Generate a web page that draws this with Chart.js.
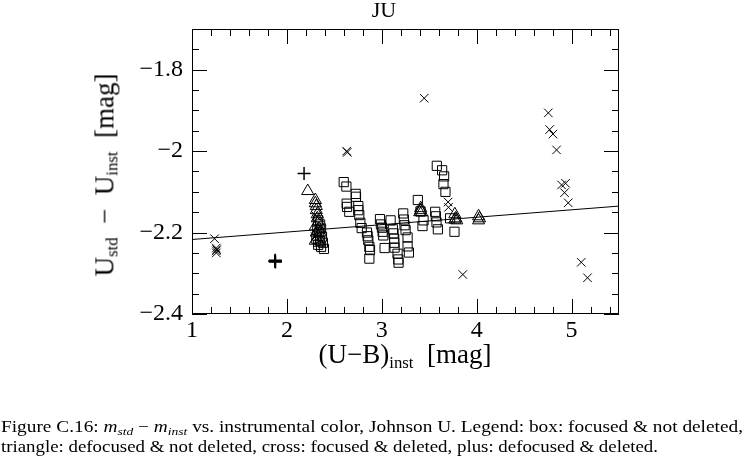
<!DOCTYPE html>
<html>
<head>
<meta charset="utf-8">
<script src="https://cdn.jsdelivr.net/npm/chart.js@4"></script>
<style>
  html, body { margin: 0; padding: 0; background: #fff; }
  #wrap { position: relative; width: 744px; height: 459px; overflow: hidden; font-family: "Liberation Serif", "DejaVu Serif", serif; color: #000; }
  #wrap canvas { position: absolute; left: 0; top: 0; }
  .lbl { position: absolute; white-space: nowrap; }
  .lbl sub { font-size: 0.62em; vertical-align: -0.25em; }
  #title { left: 384px; top: -3px; font-size: 22px; transform: translateX(-50%); }
  #ytitle { left: 106px; top: 175px; font-size: 27px; transform: translate(-50%, -50%) rotate(-90deg); }
  #xtitle { left: 405px; top: 356px; font-size: 27px; transform: translate(-50%, -50%); }
  .cap { left: 1px; font-size: 16px; line-height: 18px; transform-origin: 0 50%; }
  #cap1 { top: 418px; }
  #cap2 { top: 438px; }
  .cap i sub { font-size: 0.7em; line-height: 0; }
</style>
</head>
<body>
<div id="wrap">
  <canvas id="grafico" width="744" height="459"></canvas>
  <div class="lbl" id="title">JU</div>
  <div class="lbl" id="ytitle">U<sub>std</sub> &nbsp;&minus;&nbsp; U<sub>inst</sub> &nbsp;[mag]</div>
  <div class="lbl" id="xtitle">(U&minus;B)<sub>inst</sub> &nbsp;[mag]</div>
  <div class="lbl cap" id="cap1">Figure C.16: <i>m<sub>std</sub></i> &minus; <i>m<sub>inst</sub></i> vs. instrumental color, Johnson U. Legend: box: focused &amp; not deleted,</div>
  <div class="lbl cap" id="cap2">triangle: defocused &amp; not deleted, cross: focused &amp; deleted, plus: defocused &amp; deleted.</div>
</div>
<script>
// box: focused & not deleted
const boxX = [2.599, 2.627, 2.725, 2.728, 2.630, 2.634, 2.658, 2.753, 2.753, 2.763, 2.774, 2.788, 2.844, 2.851, 2.858, 2.869, 2.876, 2.869,
  2.981, 2.991, 3.002, 3.009, 3.016, 3.030, 3.093, 3.117, 3.124, 3.131, 3.131, 3.135, 3.166, 3.174, 3.177,
  3.226, 3.233, 3.240, 3.251, 3.272, 3.272, 3.286,
  3.380, 3.408, 3.440, 3.429,
  3.563, 3.570, 3.577, 3.591, 3.580, 3.636, 3.657, 3.650, 3.671, 3.720, 3.766,
  2.33, 2.35, 2.36, 2.34, 2.37, 2.35, 2.38, 2.33, 2.36, 2.39, 2.31, 2.32];
const boxY = [-2.076, -2.087, -2.105, -2.112, -2.129, -2.137, -2.149, -2.135, -2.145, -2.157, -2.176, -2.189, -2.200, -2.209, -2.219, -2.235, -2.243, -2.264,
  -2.167, -2.180, -2.188, -2.198, -2.207, -2.238, -2.170, -2.192, -2.202, -2.215, -2.225, -2.237, -2.252, -2.266, -2.274,
  -2.153, -2.168, -2.182, -2.194, -2.212, -2.234, -2.249,
  -2.120, -2.148, -2.170, -2.184,
  -2.149, -2.160, -2.175, -2.192, -2.036, -2.047, -2.062, -2.081, -2.100, -2.165, -2.198,
  -2.17, -2.18, -2.19, -2.20, -2.21, -2.22, -2.225, -2.23, -2.235, -2.24, -2.215, -2.195];

// triangle: defocused & not deleted
const triX = [2.22, 2.30, 2.30, 2.31, 2.31, 2.32, 2.32, 2.33, 2.30, 2.34, 2.31, 2.33, 2.35, 2.30, 2.34,
  3.41, 3.41, 3.42, 3.40, 3.77, 3.78, 3.77, 3.79, 4.02, 4.03, 4.02];
const triY = [-2.098, -2.120, -2.128, -2.135, -2.145, -2.155, -2.165, -2.175, -2.185, -2.190, -2.200, -2.210, -2.200, -2.220, -2.225,
  -2.140, -2.145, -2.150, -2.150, -2.155, -2.165, -2.168, -2.170, -2.160, -2.165, -2.170];

// cross: focused & deleted
const crossX = [1.238, 1.256, 1.256, 1.256, 1.260, 2.630, 2.636, 3.447, 3.699, 3.703, 3.854,
  4.755, 4.769, 4.804, 4.842, 4.895, 4.937, 4.926, 4.965, 5.102, 5.168, 2.31, 2.33, 2.30];
const crossY = [-2.215, -2.238, -2.245, -2.250, -2.242, -2.000, -2.003, -1.870, -2.125, -2.138, -2.303,
  -1.906, -1.947, -1.958, -1.997, -2.083, -2.079, -2.102, -2.127, -2.273, -2.311, -2.16, -2.19, -2.21];

// plus: defocused & deleted
const plusX = [2.181, 1.876, 1.880, 1.872, 1.878];
const plusY = [-2.055, -2.271, -2.272, -2.270, -2.268];

// fitted line
const lineX = [1, 5.5];
const lineY = [-2.217, -2.135];

const xTicks = [1, 2, 3, 4, 5];
const yTicks = [-2.4, -2.2, -2, -1.8];

function pares(xs, ys) {
  return xs.map((v, i) => ({ x: v, y: ys[i] }));
}

const marcos = {
  id: 'marcos',
  afterDraw(chart) {
    const { ctx, chartArea: a, scales } = chart;
    const sx = scales.x, sy = scales.y;
    ctx.save();
    ctx.strokeStyle = '#000';
    ctx.lineWidth = 1;
    ctx.strokeRect(a.left + 0.5, a.top + 0.5, a.right - a.left - 1, a.bottom - a.top - 1);
    ctx.beginPath();
    for (let k = 0; k <= 22; k++) {
      const v = 1 + k * 0.2;
      const px = Math.round(sx.getPixelForValue(v)) + 0.5;
      const len = (k % 5 === 0) ? 15 : 7;
      ctx.moveTo(px, a.bottom); ctx.lineTo(px, a.bottom - len);
      ctx.moveTo(px, a.top); ctx.lineTo(px, a.top + len);
    }
    for (let k = 0; k <= 14; k++) {
      const v = -2.4 + k * 0.05;
      const py = Math.round(sy.getPixelForValue(v)) + 0.5;
      const len = (k % 4 === 0) ? 15 : 7;
      ctx.moveTo(a.left, py); ctx.lineTo(a.left + len, py);
      ctx.moveTo(a.right, py); ctx.lineTo(a.right - len, py);
    }
    ctx.stroke();
    ctx.restore();
  }
};

const fuente = { family: '"Liberation Serif", "DejaVu Serif", serif', size: 24 };

new Chart(
  document.getElementById('grafico'),
  {
    type: 'scatter',
    data: {
      datasets: [
        { label: 'box', data: pares(boxX, boxY), pointStyle: 'rect', pointRadius: 6.5, borderColor: '#000', backgroundColor: 'rgba(0,0,0,0)', borderWidth: 1 },
        { label: 'triangle', data: pares(triX, triY), pointStyle: 'triangle', pointRadius: 7, borderColor: '#000', backgroundColor: 'rgba(0,0,0,0)', borderWidth: 1 },
        { label: 'cross', data: pares(crossX, crossY), pointStyle: 'crossRot', pointRadius: 6, borderColor: '#000', borderWidth: 1 },
        { label: 'plus', data: pares(plusX, plusY), pointStyle: 'cross', pointRadius: 6.5, borderColor: '#000', borderWidth: 1.5 },
        { label: 'fit', data: pares(lineX, lineY), showLine: true, pointRadius: 0, borderColor: '#000', borderWidth: 1, fill: false }
      ]
    },
    options: {
      responsive: false,
      animation: false,
      layout: { padding: { left: 0, top: 29, right: 125, bottom: 0 } },
      plugins: { legend: { display: false }, tooltip: { enabled: false }, title: { display: false } },
      scales: {
        x: {
          type: 'linear', min: 1, max: 5.5,
          grid: { display: false, drawTicks: false }, border: { display: false },
          afterBuildTicks: s => { s.ticks = xTicks.map(v => ({ value: v })); },
          afterFit: s => { s.height = 145; },
          ticks: { color: '#000', font: fuente, padding: 2, maxRotation: 0, callback: v => String(v) }
        },
        y: {
          type: 'linear', min: -2.4, max: -1.7,
          grid: { display: false, drawTicks: false }, border: { display: false },
          afterBuildTicks: s => { s.ticks = yTicks.map(v => ({ value: v })); },
          afterFit: s => { s.width = 192; },
          ticks: { color: '#000', font: fuente, padding: 9, callback: v => String(v).replace('-', '\u2212') }
        }
      }
    },
    plugins: [marcos]
  }
);

// stretch each caption line to the width it has in the figure
function ajustar(id, ancho) {
  const el = document.getElementById(id);
  const w = el.getBoundingClientRect().width;
  el.style.transform = 'scaleX(' + (ancho / w) + ')';
}
ajustar('cap1', 742);
ajustar('cap2', 657);
</script>
</body>
</html>
